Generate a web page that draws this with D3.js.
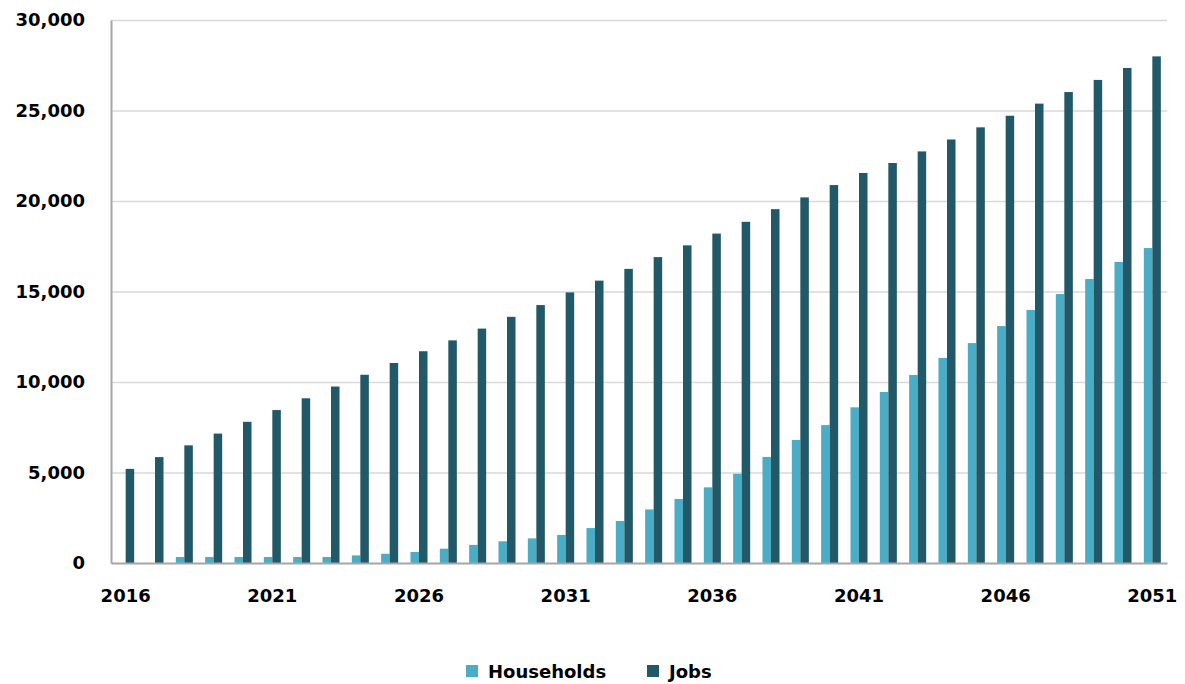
<!DOCTYPE html>
<html>
<head>
<meta charset="utf-8">
<script src="https://cdn.jsdelivr.net/npm/d3@7"></script>
<style>
  body { margin: 0; background: #fff; }
  text { font-family: "DejaVu Sans", Verdana, sans-serif; font-weight: bold; fill: #000; }
</style>
</head>
<body>
<svg id="chart"></svg>
<script>
    // data
    var years = d3.range(2016, 2052);
    var households = [0, 0, 330, 330, 330, 330, 330, 330, 420, 510,
                      610, 790, 1000, 1200, 1360, 1550, 1930, 2320, 2960, 3540,
                      4180, 4930, 5860, 6800, 7620, 8600, 9450, 10390, 11330, 12150,
                      13090, 13980, 14860, 15690, 16630, 17400];
    var jobs = [5200, 5850, 6500, 7150, 7800, 8450, 9100, 9750, 10400, 11050,
                11700, 12300, 12950, 13600, 14250, 14950, 15600, 16250, 16900, 17550,
                18200, 18850, 19550, 20200, 20880, 21550, 22100, 22740, 23400, 24070,
                24710, 25380, 26020, 26690, 27350, 27990];
    var seriesNames = ["Households", "Jobs"];
    var colors = ["#4bacc6", "#215968"];
    var yTicks = [0, 5000, 10000, 15000, 20000, 25000, 30000];
    var xTickYears = [2016, 2021, 2026, 2031, 2036, 2041, 2046, 2051];

    var data = years.map(function(y, i) {
      return {year: y, values: [households[i], jobs[i]]};
    });

    // set the dimensions and margins of the graph
    var margin = {top: 20, right: 18, bottom: 121, left: 111},
    width = 1185 - margin.left - margin.right,
    height = 684 - margin.top - margin.bottom;

    var x = d3.scaleBand().domain(years).range([0, width]).paddingInner(0.42).paddingOuter(0.21);
    var x1 = d3.scaleBand().domain([0, 1]).range([0, x.bandwidth()]);
    var y = d3.scaleLinear().domain([0, 30000]).range([height, 0]);

    var svg = d3.select("#chart")
    .attr("width", 1185)
    .attr("height", 684)
    .append("g")
    .attr("transform", "translate(" + margin.left + "," + margin.top + ")");

    // gridlines
    svg.append("g")
      .selectAll("line")
      .data(yTicks.filter(function(d) { return d > 0; }))
      .enter().append("line")
      .attr("x1", 0)
      .attr("x2", width)
      .attr("y1", function(d) { return y(d) + 0.5; })
      .attr("y2", function(d) { return y(d) + 0.5; })
      .attr("stroke", "#d9d9d9")
      .attr("stroke-width", 1.5);

    // bars
    var groups = svg.append("g")
      .selectAll("g")
      .data(data)
      .enter().append("g")
      .attr("transform", function(d) { return "translate(" + x(d.year) + ",0)"; });

    groups.selectAll("rect")
      .data(function(d) { return d.values; })
      .enter().append("rect")
      .attr("x", function(d, i) { return x1(i); })
      .attr("width", x1.bandwidth())
      .attr("y", function(d) { return y(d); })
      .attr("height", function(d) { return height - y(d); })
      .attr("fill", function(d, i) { return colors[i]; });

    // axes
    var yAxis = svg.append("g")
      .call(d3.axisLeft(y).tickValues(yTicks).tickSize(0).tickPadding(26).tickFormat(d3.format(",")));
    yAxis.select(".domain").attr("stroke", "#a6a6a6").attr("stroke-width", 2);
    yAxis.selectAll("text").style("font-size", "18px");

    var xAxis = svg.append("g")
      .attr("transform", "translate(0," + height + ")")
      .call(d3.axisBottom(x).tickValues(xTickYears).tickSize(0).tickPadding(26));
    xAxis.select(".domain").attr("stroke", "#a6a6a6").attr("stroke-width", 2);
    xAxis.selectAll("text").style("font-size", "18px");

    // legend
    var legend = svg.append("g")
      .attr("transform", "translate(0," + (height + 109) + ")");
    var legendX = [355, 536];
    seriesNames.forEach(function(name, i) {
      legend.append("rect")
        .attr("x", legendX[i])
        .attr("y", -7)
        .attr("width", 12)
        .attr("height", 12)
        .attr("fill", colors[i]);
      legend.append("text")
        .attr("x", legendX[i] + 22)
        .attr("y", 0)
        .attr("dy", "0.35em")
        .style("font-size", "18px")
        .text(name);
    });
</script>
</body>
</html>
